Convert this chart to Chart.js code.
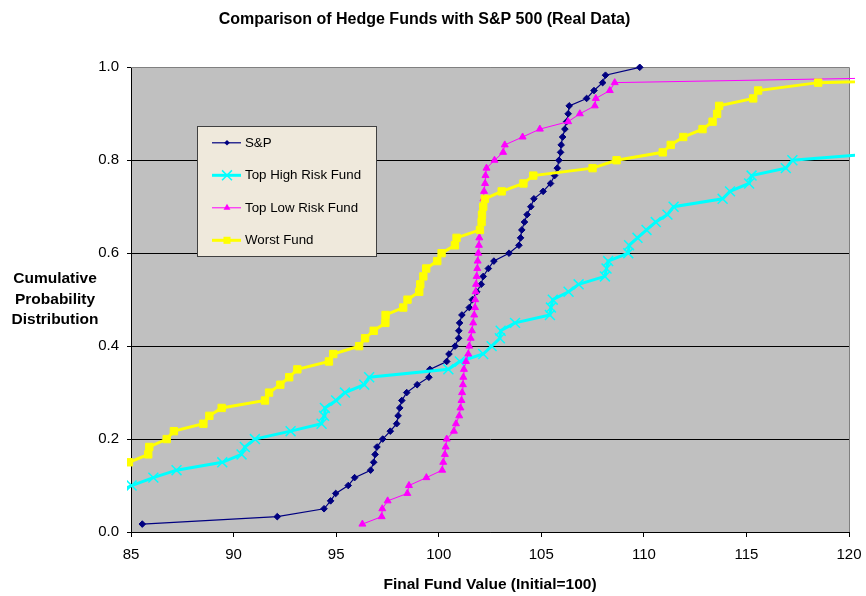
<!DOCTYPE html>
<html>
<head>
<meta charset="utf-8">
<script src="https://cdn.jsdelivr.net/npm/chart.js@4.4.0/dist/chart.umd.min.js"></script>
<style>
  html, body { margin: 0; padding: 0; background: #fff; }
</style>
</head>
<body>
<canvas id="chart" width="866" height="596"></canvas>
<script>
// cumulative probability by rank (rank / 60)
const cumProb = [0.017, 0.033, 0.050, 0.067, 0.083, 0.100, 0.117, 0.133, 0.150, 0.167,
  0.183, 0.200, 0.217, 0.233, 0.250, 0.267, 0.283, 0.300, 0.317, 0.333,
  0.350, 0.367, 0.383, 0.400, 0.417, 0.433, 0.450, 0.467, 0.483, 0.500,
  0.517, 0.533, 0.550, 0.567, 0.583, 0.600, 0.617, 0.633, 0.650, 0.667,
  0.683, 0.700, 0.717, 0.733, 0.750, 0.767, 0.783, 0.800, 0.817, 0.833,
  0.850, 0.867, 0.883, 0.900, 0.917, 0.933, 0.950, 0.967, 0.983, 1.000];

const seriesNames = ['S&P', 'Top High Risk Fund', 'Top Low Risk Fund', 'Worst Fund'];
const xTicks = [85, 90, 95, 100, 105, 110, 115, 120];
const yTicks = [0, 0.2, 0.4, 0.6, 0.8, 1.0];

// final fund values, sorted; first rank tells where each list starts in cumProb
const spFirstRank = 1;
const spValues = [85.55, 92.13, 94.41, 94.73, 94.98, 95.59, 95.90, 96.68, 96.83, 96.90,
  96.99, 97.27, 97.64, 97.95, 98.02, 98.10, 98.20, 98.44, 98.95, 99.52,
  99.57, 100.39, 100.50, 100.80, 100.97, 100.98, 101.02, 101.13, 101.49, 101.64,
  101.85, 102.07, 102.17, 102.42, 102.69, 103.43, 103.91, 103.99, 104.05, 104.18,
  104.31, 104.49, 104.64, 105.09, 105.45, 105.65, 105.78, 105.86, 105.94, 105.97,
  106.04, 106.15, 106.23, 106.31, 106.36, 107.21, 107.57, 107.99, 108.13, 109.80];

const highRiskFirstRank = 5;
const highRiskValues = [84.20, 85.03, 86.09, 87.22, 89.45, 90.39, 90.55, 91.04, 92.78, 94.29,
  94.41, 94.45, 95.00, 95.43, 96.37, 96.61, 100.47, 101.03, 102.17, 102.58,
  102.98, 103.02, 103.72, 105.42, 105.47, 105.56, 106.33, 106.82, 108.10, 108.18,
  108.26, 109.24, 109.28, 109.69, 110.13, 110.58, 111.15, 111.45, 113.84, 114.20,
  115.13, 115.25, 116.92, 117.24, 121.97];

const lowRiskFirstRank = 1;
const lowRiskValues = [96.28, 97.22, 97.25, 97.51, 98.47, 98.55, 99.40, 100.17, 100.22, 100.30,
  100.34, 100.39, 100.74, 100.84, 101.00, 101.06, 101.11, 101.14, 101.18, 101.20,
  101.23, 101.33, 101.44, 101.49, 101.56, 101.62, 101.68, 101.73, 101.77, 101.78,
  101.80, 101.82, 101.85, 101.88, 101.90, 101.93, 101.96, 101.98, 102.01, 102.09,
  102.11, 102.15, 102.18, 102.21, 102.26, 102.28, 102.33, 102.72, 103.14, 103.22,
  104.09, 104.93, 106.31, 106.88, 107.61, 107.66, 108.34, 108.58, 129.20];

const worstFirstRank = 8;
const worstValues = [83.50, 84.90, 85.84, 85.89, 86.74, 87.09, 88.53, 88.82, 89.42, 91.53,
  91.73, 92.28, 92.71, 93.11, 94.65, 94.86, 96.12, 96.41, 96.83, 97.40,
  97.41, 98.27, 98.48, 99.05, 99.10, 99.25, 99.39, 99.93, 100.14, 100.79,
  100.87, 102.01, 102.09, 102.11, 102.17, 102.25, 103.07, 104.13, 104.61, 107.50,
  108.67, 110.92, 111.31, 111.92, 112.86, 113.35, 113.57, 113.67, 115.33, 115.57,
  118.50, 132.30];

function toPoints(values, firstRank) {
  return values.map((v, i) => ({ x: v, y: cumProb[firstRank - 1 + i] }));
}

const styles = [
  { color: '#000080', width: 1.2, point: 'rectRot', r: 3.3, lr: 2.8 },
  { color: '#00FFFF', width: 3, point: 'crossRot', r: 7, lr: 7 },
  { color: '#FF00FF', width: 1, point: 'triangle', r: 4, lr: 4 },
  { color: '#FFFF00', width: 3, point: 'rect', r: 5.2, lr: 5 }
];

const FONT = "'Liberation Sans', Arial, sans-serif";

function drawMarker(ctx, style, x, y, r) {
  ctx.beginPath();
  if (style === 'rectRot') {
    ctx.moveTo(x, y - r); ctx.lineTo(x + r, y); ctx.lineTo(x, y + r); ctx.lineTo(x - r, y);
    ctx.closePath(); ctx.fill();
  } else if (style === 'rect') {
    const s = r * Math.SQRT1_2;
    ctx.rect(x - s, y - s, 2 * s, 2 * s); ctx.fill();
  } else if (style === 'triangle') {
    ctx.moveTo(x, y - r);
    ctx.lineTo(x + r * 0.866, y + r * 0.5);
    ctx.lineTo(x - r * 0.866, y + r * 0.5);
    ctx.closePath(); ctx.fill();
  } else if (style === 'crossRot') {
    const s = r * Math.SQRT1_2;
    ctx.moveTo(x - s, y - s); ctx.lineTo(x + s, y + s);
    ctx.moveTo(x + s, y - s); ctx.lineTo(x - s, y + s);
    ctx.stroke();
  }
}

const plotDecor = {
  id: 'plotDecor',
  beforeDraw(chart) {
    const { ctx, chartArea: a } = chart;
    ctx.save();
    ctx.fillStyle = '#C0C0C0';
    ctx.fillRect(a.left, a.top, a.right - a.left, a.bottom - a.top);
    ctx.restore();
  },
  beforeDatasetsDraw(chart) {
    const { ctx, chartArea: a } = chart;
    ctx.save();
    ctx.strokeStyle = '#808080';
    ctx.lineWidth = 1;
    ctx.beginPath();
    ctx.moveTo(a.left, Math.round(a.top) + 0.5);
    ctx.lineTo(Math.round(a.right) + 0.5, Math.round(a.top) + 0.5);
    ctx.lineTo(Math.round(a.right) + 0.5, a.bottom);
    ctx.stroke();
    ctx.restore();
  },
  afterDraw(chart) {
    const { ctx, chartArea: a } = chart;
    ctx.save();
    // y axis title, horizontal, three lines
    ctx.fillStyle = '#000';
    ctx.font = 'bold 15.5px ' + FONT;
    ctx.textAlign = 'center';
    ctx.textBaseline = 'middle';
    ['Cumulative', 'Probability', 'Distribution'].forEach((t, i) => {
      ctx.fillText(t, 55, 279 + i * 20.5);
    });

    // legend box inside the plot
    const bx = a.left + 66, by = a.top + 59, bw = 179, bh = 130;
    ctx.fillStyle = '#EFE9DC';
    ctx.fillRect(bx, by, bw, bh);
    ctx.strokeStyle = '#404040';
    ctx.lineWidth = 1;
    ctx.strokeRect(Math.round(bx) + 0.5, Math.round(by) + 0.5, bw, bh);
    ctx.font = '13.3px ' + FONT;
    ctx.textAlign = 'left';
    seriesNames.forEach((name, i) => {
      const s = styles[i];
      const y = by + 16.5 + i * 32.5;
      ctx.strokeStyle = s.color;
      ctx.fillStyle = s.color;
      ctx.lineWidth = s.width;
      ctx.beginPath();
      ctx.moveTo(bx + 15, y); ctx.lineTo(bx + 44, y);
      ctx.stroke();
      ctx.lineWidth = 1.5;
      drawMarker(ctx, s.point, bx + 30, y, s.lr);
      ctx.fillStyle = '#000';
      ctx.fillText(name, bx + 48, y + 0.5);
    });
    ctx.restore();
  }
};

const allValues = [
  toPoints(spValues, spFirstRank),
  toPoints(highRiskValues, highRiskFirstRank),
  toPoints(lowRiskValues, lowRiskFirstRank),
  toPoints(worstValues, worstFirstRank)
];

const datasets = seriesNames.map((name, i) => ({
  label: name,
  data: allValues[i],
  borderColor: styles[i].color,
  backgroundColor: styles[i].color,
  borderWidth: styles[i].width,
  pointStyle: styles[i].point,
  pointRadius: styles[i].r,
  pointBorderWidth: styles[i].point === 'crossRot' ? 1.5 : 1,
  pointBackgroundColor: styles[i].color,
  pointBorderColor: styles[i].color,
  tension: 0,
  order: 3 - i,
  clip: { left: 4, top: 6, right: 6, bottom: 6 }
}));

new Chart(document.getElementById('chart'), {
  type: 'scatter',
  data: { datasets },
  plugins: [plotDecor],
  options: {
    responsive: false,
    animation: false,
    devicePixelRatio: 1,
    showLine: true,
    layout: { padding: { left: 0, right: 17, top: 0, bottom: 0 } },
    plugins: {
      legend: { display: false },
      tooltip: { enabled: false },
      title: {
        display: true,
        text: 'Comparison of Hedge Funds with S&P 500 (Real Data)',
        color: '#000',
        font: { family: FONT, size: 16, weight: 'bold' },
        padding: { top: 10.4, bottom: 37.7 }
      }
    },
    scales: {
      x: {
        type: 'linear',
        min: xTicks[0],
        max: xTicks[xTicks.length - 1],
        afterBuildTicks: s => { s.ticks = xTicks.map(v => ({ value: v })); },
        afterFit: s => { s.height = 64; s.paddingLeft = 0; s.paddingRight = 0; },
        ticks: { color: '#000', font: { family: FONT, size: 15 }, padding: 9, maxRotation: 0 },
        grid: { drawOnChartArea: false, drawTicks: true, tickLength: 5, tickColor: '#000' },
        border: { color: '#000', width: 1 },
        title: {
          display: true,
          text: 'Final Fund Value (Initial=100)',
          color: '#000',
          font: { family: FONT, size: 15.5, weight: 'bold' },
          padding: { top: 0, bottom: 2 }
        }
      },
      y: {
        type: 'linear',
        min: 0,
        max: 1,
        afterBuildTicks: s => { s.ticks = yTicks.map(v => ({ value: v })); },
        afterFit: s => { s.width = 131; },
        ticks: { color: '#000', font: { family: FONT, size: 15 }, padding: 8, callback: v => v.toFixed(1) },
        grid: {
          color: c => (c.tick && c.tick.value === 1 ? '#808080' : '#000'),
          tickColor: '#000',
          tickLength: 4,
          lineWidth: 1
        },
        border: { color: '#000', width: 1 }
      }
    }
  }
});
</script>
</body>
</html>
